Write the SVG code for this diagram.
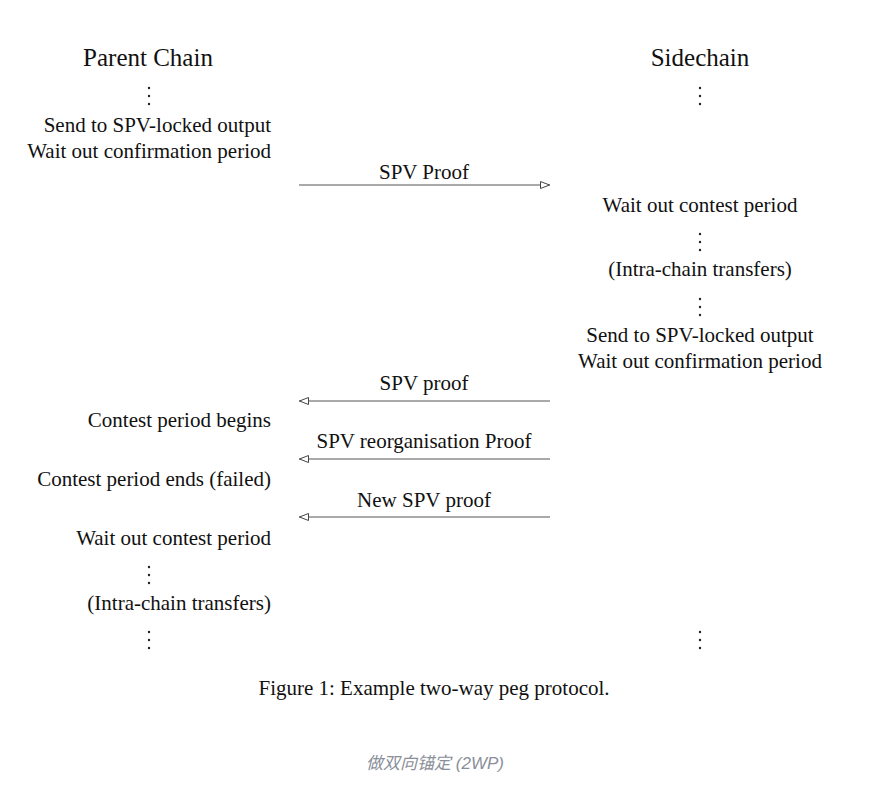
<svg xmlns="http://www.w3.org/2000/svg" width="875" height="785" viewBox="0 0 875 785">
<style>
  .t { font-family: "Liberation Serif", "Times New Roman", serif; font-size: 21px; fill: #111; }
  .h { font-family: "Liberation Serif", "Times New Roman", serif; font-size: 25px; fill: #111; }
  .l { text-anchor: end; }
  .c { text-anchor: middle; }
  .cn { font-family: "Liberation Sans", "Noto Sans CJK SC", sans-serif; font-size: 17px; font-style: italic; fill: #8a8f99; text-anchor: middle; }
  .ln { stroke: #555; stroke-width: 1; fill: none; }
  .dot { fill: #222; }
</style>
<defs>
  <marker id="ah" viewBox="0 0 10 8" refX="10" refY="4" markerWidth="10" markerHeight="8" markerUnits="userSpaceOnUse" orient="auto">
    <path d="M0.5,0.5 L9.5,4 L0.5,7.5 Z" fill="#fff" stroke="#444" stroke-width="1"/>
  </marker>
  <g id="vd">
    <circle class="dot" cx="0" cy="0" r="1.2"/>
    <circle class="dot" cx="0" cy="8" r="1.2"/>
    <circle class="dot" cx="0" cy="16" r="1.2"/>
  </g>
</defs>
<rect width="875" height="785" fill="#fff"/>

<g id="parent-header">
  <text class="h c" x="148" y="66">Parent Chain</text>
  <use href="#vd" x="149" y="88"/>
</g>
<g id="side-header">
  <text class="h c" x="700" y="66">Sidechain</text>
  <use href="#vd" x="700" y="88"/>
</g>

<g id="parent-send">
  <text class="t l" x="271" y="132">Send to SPV-locked output</text>
  <text class="t l" x="271" y="158">Wait out confirmation period</text>
</g>

<g id="side-wait">
  <text class="t c" x="700" y="212">Wait out contest period</text>
  <use href="#vd" x="700" y="234"/>
</g>
<g id="side-intra">
  <text class="t c" x="700" y="276">(Intra-chain transfers)</text>
  <use href="#vd" x="700" y="299"/>
</g>
<g id="side-send">
  <text class="t c" x="700" y="342">Send to SPV-locked output</text>
  <text class="t c" x="700" y="368">Wait out confirmation period</text>
</g>

<g id="parent-contest-begins">
  <text class="t l" x="271" y="427">Contest period begins</text>
</g>
<g id="parent-contest-ends">
  <text class="t l" x="271" y="486">Contest period ends (failed)</text>
</g>
<g id="parent-wait">
  <text class="t l" x="271" y="545">Wait out contest period</text>
  <use href="#vd" x="149" y="567"/>
</g>
<g id="parent-intra">
  <text class="t l" x="271" y="610">(Intra-chain transfers)</text>
  <use href="#vd" x="149" y="632"/>
</g>
<g id="side-end">
  <use href="#vd" x="700" y="632"/>
</g>

<g id="connectors">
  <line class="ln" x1="299" y1="185" x2="550" y2="185" marker-end="url(#ah)"/>
  <text class="t c" x="424" y="179">SPV Proof</text>
  <line class="ln" x1="550" y1="401" x2="299" y2="401" marker-end="url(#ah)"/>
  <text class="t c" x="424" y="390">SPV proof</text>
  <line class="ln" x1="550" y1="459" x2="299" y2="459" marker-end="url(#ah)"/>
  <text class="t c" x="424" y="448">SPV reorganisation Proof</text>
  <line class="ln" x1="550" y1="517" x2="299" y2="517" marker-end="url(#ah)"/>
  <text class="t c" x="424" y="507">New SPV proof</text>
</g>

<g id="caption">
  <text class="t c" x="434" y="695">Figure 1: Example two-way peg protocol.</text>
  <text class="cn" x="435" y="769">做双向锚定 (2WP)</text>
</g>
</svg>
